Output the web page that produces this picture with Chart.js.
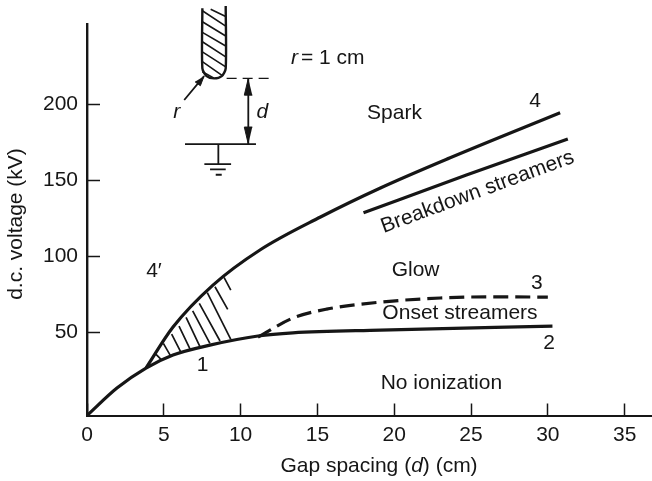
<!DOCTYPE html>
<html>
<head>
<meta charset="utf-8">
<title>Gap spacing chart</title>
<script src="https://cdn.jsdelivr.net/npm/chart.js@4"></script>
<style>
    html, body { margin: 0; padding: 0; background: #fff; }
    canvas { display: block; }
</style>
</head>
<body>
<canvas id="gapChart" width="652" height="481"></canvas>
<script>
// tick labels
const xTickValues = [0, 5, 10, 15, 20, 25, 30, 35];
const yTickValues = [50, 100, 150, 200];

// curves 1 + 2 (onset)
const onsetX = [0, 1.95, 3.84, 5.6, 8.0, 11.13, 13.4, 19.1, 30.3];
const onsetY = [-4.9, 13.2, 26.3, 34.9, 41.4, 47.4, 49.5, 51.3, 53.9];

// curves 4' + 4 (spark)
const sparkX = [3.84, 5.6, 8.2, 11.26, 15.2, 19.1, 23.6, 30.8];
const sparkY = [26.3, 53.3, 80.9, 104, 125.7, 144.8, 164.5, 194.3];

// breakdown streamers line
const streamerX = [18.0, 24.7, 31.3];
const streamerY = [128.5, 153.3, 177];

// curve 3 (dashed)
const glowX = [11.13, 13.4, 15.6, 19.1, 23.0, 26.2, 30.0];
const glowY = [46.7, 59.2, 65.1, 69.7, 72.4, 73.2, 73.0];

// hatching between curves 1 and 4'
const hatchX1 = [4.43, 4.97, 5.51, 5.99, 6.45, 6.88, 7.31, 7.83, 8.33, 8.92];
const hatchY1 = [36.0, 42.6, 48.7, 53.9, 59.7, 64.0, 68.9, 75.9, 79.8, 86.0];
const hatchX2 = [4.82, 5.45, 6.1, 6.71, 7.36, 8.0, 8.66, 9.36, 9.16, 9.36];
const hatchY2 = [32.0, 34.2, 37.0, 38.8, 40.3, 42.6, 44.1, 45.2, 64.9, 77.6];

// electrode sketch, in the same axis units
const rodX = [7.51, 7.51, 7.79, 8.27, 8.77, 9.03, 9.03];
const rodY = [263.0, 223.5, 218.4, 216.9, 218.4, 223.5, 264.5];
const rodHatchX1 = [8.05, 7.51, 7.51, 7.51, 7.51, 7.51, 7.51, 7.51];
const rodHatchY1 = [262.4, 261.4, 254.2, 247.2, 241.0, 234.4, 227.9, 221.3];
const rodHatchX2 = [9.03, 9.03, 9.03, 9.03, 9.03, 9.03, 8.79, 8.27];
const rodHatchY2 = [257.6, 251.3, 244.8, 238.2, 231.1, 224.5, 218.9, 217.1];

const wireX1 = [10.5, 6.38, 8.55, 7.64, 8.01, 8.38, 6.33];
const wireY1 = [216.9, 173.7, 173.7, 160.5, 157.1, 153.5, 202.7];
const wireX2 = [10.5, 11.0, 8.55, 9.38, 9.03, 8.77, 7.62];
const wireY2 = [173.7, 173.7, 161.0, 160.5, 157.1, 153.5, 218.4];

const gapLevelX = [9.09, 12.03];
const gapLevelY = [216.9, 216.9];

const arrowTopX = [10.5, 10.24, 10.76];
const arrowTopY = [216.9, 205.9, 205.9];
const arrowBottomX = [10.5, 10.24, 10.76];
const arrowBottomY = [173.7, 184.9, 184.9];
const arrowRadiusX = [7.62, 7.38, 7.03];
const arrowRadiusY = [218.4, 212.1, 214.7];

// text placed on the plot
const noteTexts = ['r', '= 1 cm', 'r', 'd', 'Spark', '4', 'Breakdown streamers', 'Glow', '3', 'Onset streamers', '2', 'No ionization', '1', '4\u2032'];
const noteX = [13.5, 16.0, 5.84, 11.41, 20.02, 29.17, 25.42, 21.39, 29.28, 24.28, 30.08, 23.07, 7.53, 4.36];
const noteY = [230.3, 230.3, 195.0, 195.0, 194.1, 202.2, 142.1, 90.8, 82.4, 62.7, 42.8, 16.4, 28.3, 90.1];
const noteItalic = [true, false, true, true, false, false, false, false, false, false, false, false, false, false];
const noteAngle = [0, 0, 0, 0, 0, 0, -20.3, 0, 0, 0, 0, 0, 0, 0];

const INK = '#161616';
const FONT = '"Liberation Sans", Arial, sans-serif';
const FONT_SIZE = 21;

function toPoints(xs, ys) {
    return xs.map((x, i) => ({ x: x, y: ys[i] }));
}

// separate strokes joined by gaps
function toSegments(x1, y1, x2, y2) {
    const pts = [];
    x1.forEach((x, i) => {
        pts.push({ x: x, y: y1[i] });
        pts.push({ x: x2[i], y: y2[i] });
        pts.push({ x: null, y: null });
    });
    return pts;
}

function curve(xs, ys, extra) {
    return Object.assign({
        data: toPoints(xs, ys),
        borderColor: INK,
        borderWidth: 3.2,
        pointRadius: 0,
        showLine: true,
        cubicInterpolationMode: 'monotone',
        clip: false
    }, extra);
}

function strokes(x1, y1, x2, y2, width) {
    return {
        data: toSegments(x1, y1, x2, y2),
        borderColor: INK,
        borderWidth: width,
        pointRadius: 0,
        showLine: true,
        spanGaps: false,
        clip: false
    };
}

function arrowHead(xs, ys) {
    return {
        data: toPoints(xs, ys),
        borderColor: INK,
        backgroundColor: INK,
        borderWidth: 1,
        pointRadius: 0,
        showLine: true,
        fill: 'shape',
        clip: false
    };
}

// draws mixed upright/italic text centred on cx, cy
function drawRuns(ctx, runs, cx, cy, angle) {
    ctx.save();
    ctx.translate(cx, cy);
    ctx.rotate(angle * Math.PI / 180);
    ctx.fillStyle = INK;
    ctx.textBaseline = 'middle';
    ctx.textAlign = 'left';
    let total = 0;
    runs.forEach(run => {
        ctx.font = (run.italic ? 'italic ' : '') + FONT_SIZE + 'px ' + FONT;
        total += ctx.measureText(run.text).width;
    });
    let pos = -total / 2;
    runs.forEach(run => {
        ctx.font = (run.italic ? 'italic ' : '') + FONT_SIZE + 'px ' + FONT;
        ctx.fillText(run.text, pos, 0);
        pos += ctx.measureText(run.text).width;
    });
    ctx.restore();
}

const notesPlugin = {
    id: 'notes',
    afterDraw: function(chart) {
        const ctx = chart.ctx;
        const xs = chart.scales.x;
        const ys = chart.scales.y;
        noteTexts.forEach((text, i) => {
            drawRuns(ctx, [{ text: text, italic: noteItalic[i] }],
                xs.getPixelForValue(noteX[i]), ys.getPixelForValue(noteY[i]), noteAngle[i]);
        });
        // axis titles, the d has to be italic so the built in title won't do
        drawRuns(ctx, [{ text: 'Gap spacing (' }, { text: 'd', italic: true }, { text: ') (cm)' }], 379, 466, 0);
        drawRuns(ctx, [{ text: 'd.c. voltage (kV)' }], 16, 224, -90);
    }
};

// the layout reserves room for half a tick label, not wanted here
function noLabelPadding(scale) {
    scale.paddingTop = 0;
    scale.paddingBottom = 0;
    scale.paddingLeft = 0;
    scale.paddingRight = 0;
}

new Chart(document.getElementById('gapChart').getContext('2d'), {
    type: 'scatter',
    data: {
        datasets: [
            curve(onsetX, onsetY),
            curve(sparkX, sparkY),
            curve(streamerX, streamerY),
            curve(glowX, glowY, { borderDash: [15, 7] }),
            strokes(hatchX1, hatchY1, hatchX2, hatchY2, 1.7),
            curve(rodX, rodY, { cubicInterpolationMode: 'default', tension: 0.25, borderWidth: 2.4 }),
            strokes(rodHatchX1, rodHatchY1, rodHatchX2, rodHatchY2, 1.6),
            strokes(wireX1, wireY1, wireX2, wireY2, 1.8),
            curve(gapLevelX, gapLevelY, { borderWidth: 1.4, borderDash: [10, 6] }),
            arrowHead(arrowTopX, arrowTopY),
            arrowHead(arrowBottomX, arrowBottomY),
            arrowHead(arrowRadiusX, arrowRadiusY)
        ]
    },
    options: {
        responsive: false,
        animation: false,
        layout: { padding: { top: 24, right: 0, bottom: 0, left: 0 } },
        plugins: {
            legend: { display: false },
            tooltip: { enabled: false }
        },
        scales: {
            x: {
                type: 'linear',
                min: 0,
                max: 36.78,
                afterBuildTicks: function(scale) {
                    scale.ticks = xTickValues.map(v => ({ value: v }));
                },
                afterFit: function(scale) {
                    scale.height = 65.5;
                    noLabelPadding(scale);
                },
                border: { color: INK, width: 2 },
                grid: { drawOnChartArea: false, tickLength: -12, tickColor: INK, tickWidth: 1.5 },
                ticks: {
                    color: INK,
                    font: { family: FONT, size: FONT_SIZE },
                    padding: 19,
                    maxRotation: 0,
                    autoSkip: false
                }
            },
            y: {
                type: 'linear',
                min: -4.9,
                max: 252.7,
                afterBuildTicks: function(scale) {
                    scale.ticks = yTickValues.map(v => ({ value: v }));
                },
                afterFit: function(scale) {
                    scale.width = 87;
                    noLabelPadding(scale);
                },
                border: { color: INK, width: 2.4 },
                grid: { drawOnChartArea: false, tickLength: -13, tickColor: INK, tickWidth: 1.5 },
                ticks: {
                    color: INK,
                    font: { family: FONT, size: FONT_SIZE },
                    padding: 22,
                    autoSkip: false
                }
            }
        }
    },
    plugins: [notesPlugin]
});
</script>
</body>
</html>
